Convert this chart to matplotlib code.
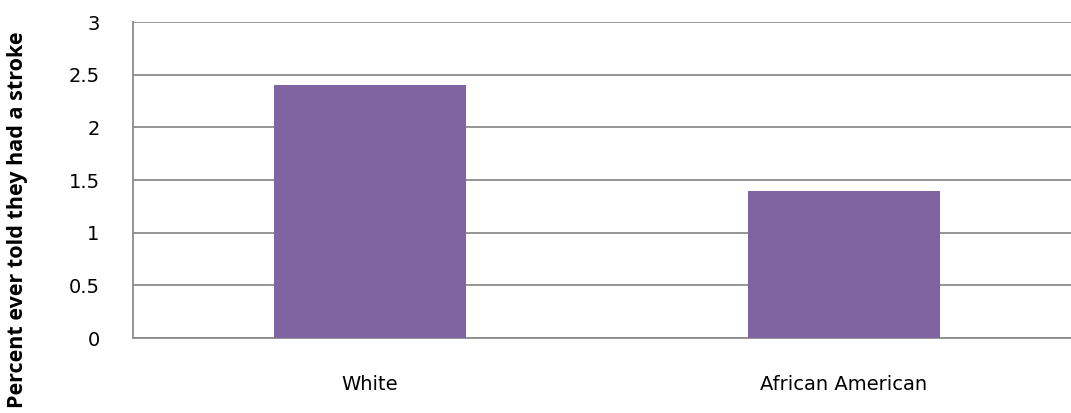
import matplotlib
matplotlib.use("Agg")
import matplotlib.pyplot as plt

categories = ["White", "African American"]
values = [2.4, 1.4]
yticks = [0, 0.5, 1, 1.5, 2, 2.5, 3]
ytick_labels = ["0", "0.5", "1", "1.5", "2", "2.5", "3"]

fig = plt.figure(figsize=(10.71, 4.13), dpi=100)
ax = fig.add_axes([133/1071, 1 - 338/413, 948/1071, 316/413])

x = list(range(len(categories)))
ax.bar(x, values, width=0.403, color="#8064A2", zorder=3)

ax.set_xlim(-0.5, len(categories) - 0.5)
ax.set_ylim(0, 3)
ax.set_yticks(yticks)
ax.set_yticklabels(ytick_labels, fontsize=14, family="DejaVu Sans")
ax.set_xticks(x)
ax.set_xticklabels(categories, fontsize=14, family="DejaVu Sans")
ax.tick_params(axis="y", length=0, pad=24)
ax.tick_params(axis="x", length=0, pad=27)

ax.grid(axis="y", color="#8c8c8c", linewidth=1.3, zorder=0)
ax.set_axisbelow(True)
for s in ["top", "right"]:
    ax.spines[s].set_visible(False)
for s in ["left", "bottom"]:
    ax.spines[s].set_color("#8c8c8c")
    ax.spines[s].set_linewidth(1.3)

fig.text(18/1071, 1 - 220/413, "Percent ever told they had a stroke", rotation=90,
         ha="center", va="center", fontsize=15.5, fontweight="bold", family="Open Sans")

fig.savefig("out.png", dpi=100)
